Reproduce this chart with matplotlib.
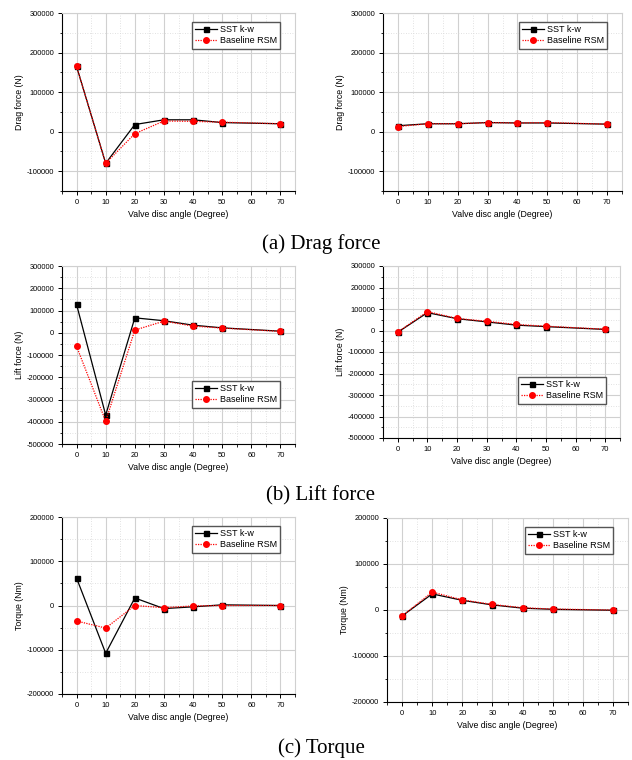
import numpy as np
import matplotlib
matplotlib.use("Agg")
import matplotlib.pyplot as plt
from matplotlib.ticker import MultipleLocator

plt.rcParams['font.family'] = ['Liberation Sans', 'DejaVu Sans']
plt.rcParams['axes.unicode_minus'] = False

# valve disc angles (no data at 60 deg)
angle = [0, 10, 20, 30, 40, 50, 70]

# drag force (N)
drag_sst_l = [165000, -80000, 18000, 30000, 30000, 23000, 20000]
drag_rsm_l = [165000, -80000, -5000, 27000, 26000, 24000, 20000]
drag_sst_r = [15000, 20000, 20000, 23000, 22000, 22000, 19000]
drag_rsm_r = [13000, 20000, 20000, 23000, 22000, 23000, 19000]

# lift force (N)
lift_sst_l = [127000, -370000, 67000, 54000, 34000, 22000, 7000]
lift_rsm_l = [-61000, -398000, 12000, 52000, 30000, 21000, 6000]
lift_sst_r = [-8000, 83000, 55000, 40000, 25000, 18000, 5000]
lift_rsm_r = [-7000, 88000, 56000, 43000, 28000, 20000, 6000]

# torque (Nm)
torq_sst_l = [62000, -108000, 17000, -7000, -3000, 1500, 0]
torq_rsm_l = [-35000, -51000, 0, -5000, -1000, 0, 0]
torq_sst_r = [-13000, 35000, 21000, 11000, 4000, 1500, -500]
torq_rsm_r = [-13000, 39000, 22000, 12000, 5000, 2000, 0]

W, H = 632, 760
fig = plt.figure(figsize=(W / 100, H / 100), dpi=100)


def px_axes(x0, y0, x1, y1):
    return fig.add_axes([x0 / W, 1 - y1 / H, (x1 - x0) / W, (y1 - y0) / H])


def panel(box, sst, rsm, ylim, ymajor, ylabel, leg_box):
    ax = px_axes(*box)
    ax.plot(angle, sst, color='black', lw=0.9, marker='s', ms=3.6,
            label='SST k-w', zorder=3)
    ax.plot(angle, rsm, color='red', lw=0.9, ls=(0, (1, 1)), marker='o',
            ms=4, label='Baseline RSM', zorder=4)
    ax.set_xlim(-5, 75)
    ax.set_ylim(*ylim)
    ax.xaxis.set_major_locator(MultipleLocator(10))
    ax.xaxis.set_minor_locator(MultipleLocator(5))
    ax.yaxis.set_major_locator(MultipleLocator(ymajor))
    ax.yaxis.set_minor_locator(MultipleLocator(ymajor / 2))
    ax.grid(which='major', color='#d0d0d0', lw=0.8)
    ax.grid(which='minor', color='#d8d8d8', lw=0.6, ls=(0, (1, 2)))
    ax.set_axisbelow(True)
    for s in ['top', 'right']:
        ax.spines[s].set_color('#d0d0d0')
    for s in ['left', 'bottom']:
        ax.spines[s].set_linewidth(0.8)
    ax.tick_params(which='major', direction='out', length=3, width=0.7,
                   labelsize=5.4, pad=2.5)
    ax.tick_params(which='minor', direction='out', length=1.8, width=0.6)
    ax.set_xlabel('Valve disc angle (Degree)', fontsize=6.3, labelpad=3)
    ax.set_ylabel(ylabel, fontsize=6.3, labelpad=2)
    x1, y0 = leg_box
    ax.legend(loc='upper right', bbox_to_anchor=(x1 / W, 1 - y0 / H),
              bbox_transform=fig.transFigure, borderaxespad=0, fontsize=6.5,
              fancybox=False, framealpha=1, edgecolor='#555555',
              handlelength=2.4, handletextpad=0.3, borderpad=0.35,
              labelspacing=0.25)
    return ax


panel((62, 13, 295, 191), drag_sst_l, drag_rsm_l, (-150000, 300000), 100000,
      'Drag force (N)', (280, 22))
panel((383, 13, 622, 191), drag_sst_r, drag_rsm_r, (-150000, 300000), 100000,
      'Drag force (N)', (607, 22))
panel((62, 266, 295, 444), lift_sst_l, lift_rsm_l, (-500000, 300000), 100000,
      'Lift force (N)', (280, 381))
panel((383, 266, 620, 438), lift_sst_r, lift_rsm_r, (-500000, 300000), 100000,
      'Lift force (N)', (606, 377))
panel((62, 517, 295, 694), torq_sst_l, torq_rsm_l, (-200000, 200000), 100000,
      'Torque (Nm)', (280, 526))
panel((387, 518, 628, 702), torq_sst_r, torq_rsm_r, (-200000, 200000), 100000,
      'Torque (Nm)', (613, 527))

captions = ['(a) Drag force', '(b) Lift force', '(c) Torque']
for txt, yc in zip(captions, [244, 496, 748]):
    fig.text(321 / W, 1 - yc / H, txt, ha='center', va='center', fontsize=15,
             family=['Liberation Serif', 'DejaVu Serif'])

fig.savefig('out.png', dpi=100)
